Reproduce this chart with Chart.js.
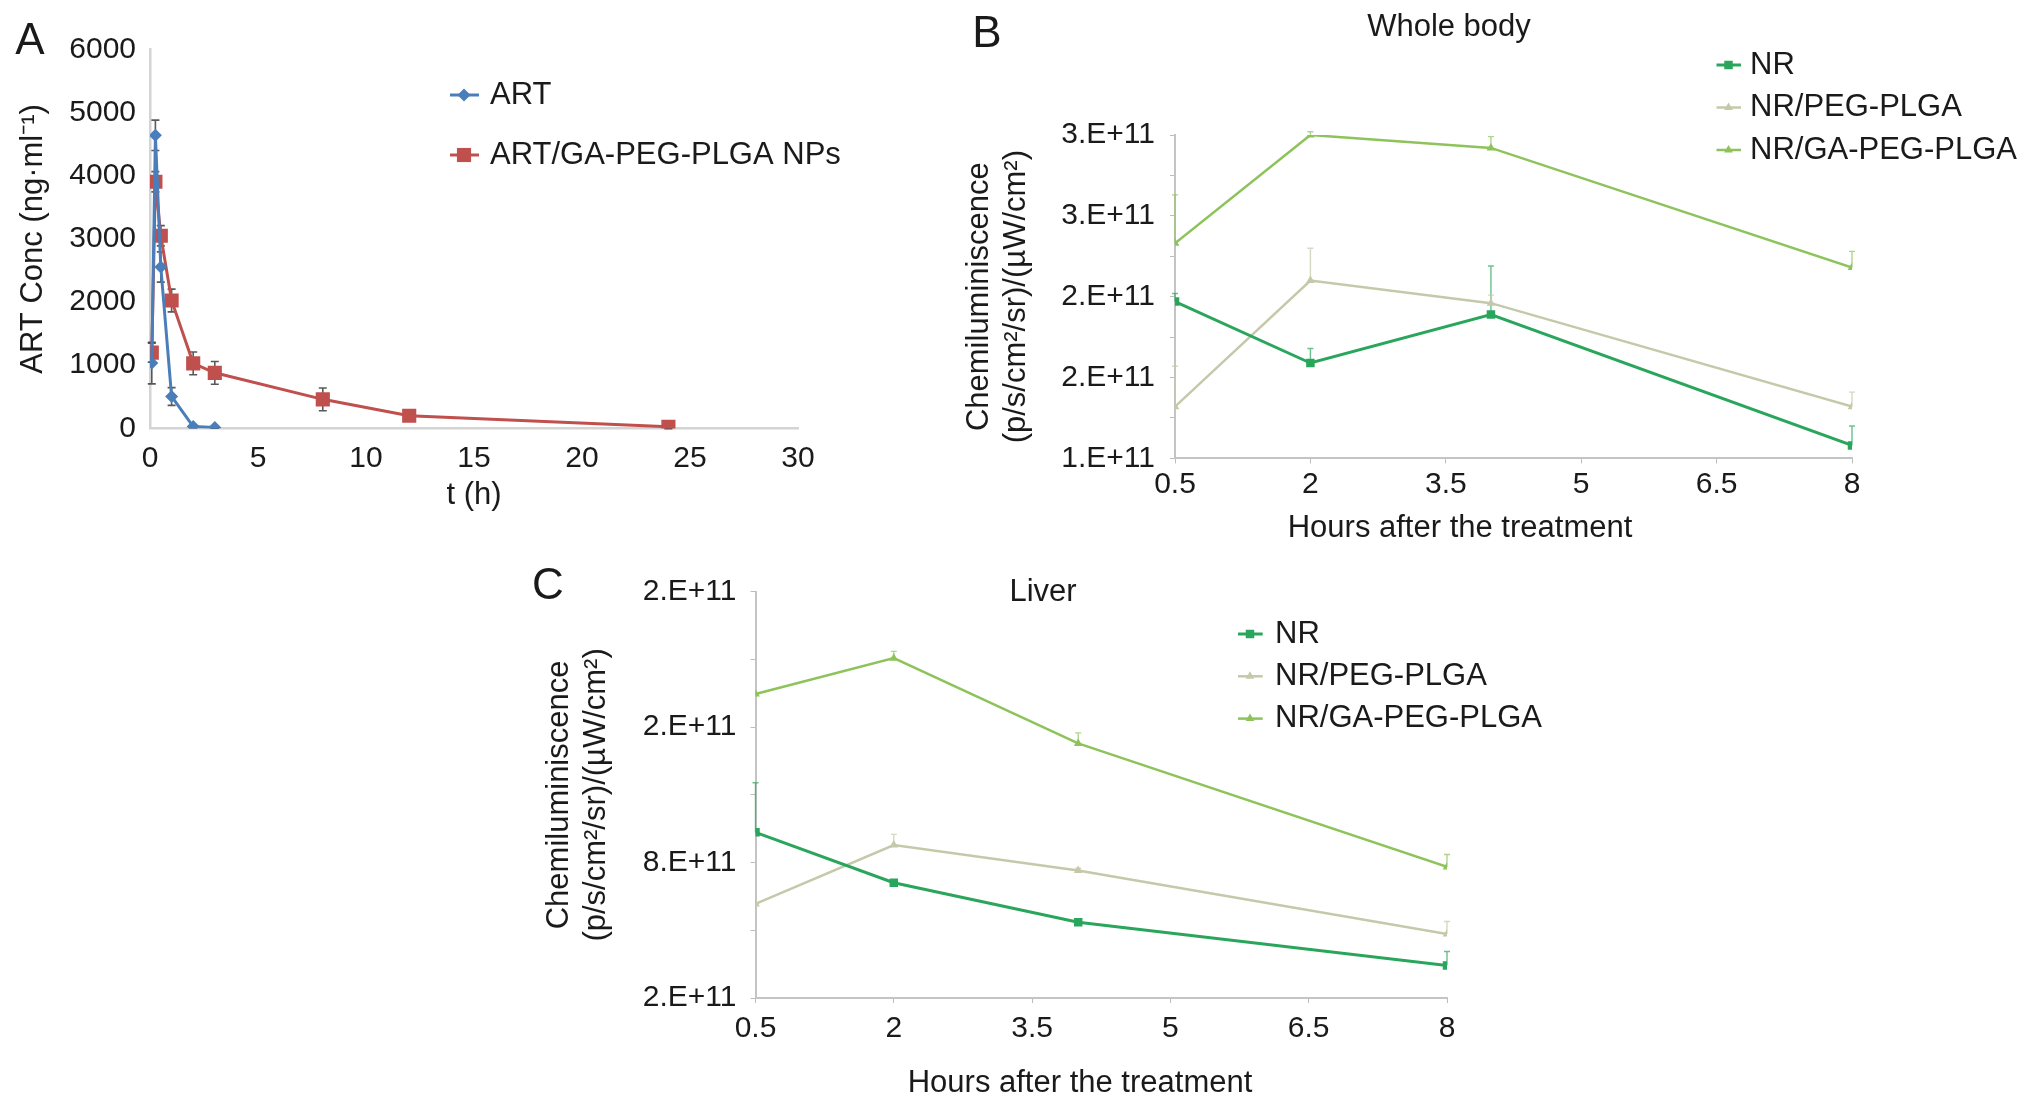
<!DOCTYPE html>
<html lang="en">
<head>
  <meta charset="UTF-8" />
  <title>ART pharmacokinetics and NR chemiluminescence</title>
  <script src="https://cdn.jsdelivr.net/npm/chart.js"></script>
  <style>
    body { margin: 0; background: #fff; }
    #page { position: relative; width: 2032px; height: 1103px; overflow: hidden;
            font-family: 'Liberation Sans', Arial, Helvetica, sans-serif; color: #1a1a1a; }
    .box { position: absolute; }
    .lbl { position: absolute; transform: translate(-50%, -50%); white-space: nowrap; line-height: 1; }
  </style>
</head>
<body>
<div id="page">
  <div class="box" style="left:0px; top:0px; width:870px; height:520px;"><canvas id="chartA"></canvas></div>
  <div class="box" style="left:940px; top:0px; width:1092px; height:560px;"><canvas id="chartB"></canvas></div>
  <div class="box" style="left:520px; top:550px; width:1100px; height:553px;"><canvas id="chartC"></canvas></div>

  <div class="lbl" style="left:30px; top:39px; font-size:44px;">A</div>
  <div class="lbl" style="left:987px; top:32px; font-size:44px;">B</div>
  <div class="lbl" style="left:548px; top:584px; font-size:44px;">C</div>
  <div class="lbl" style="left:1449px; top:25px; font-size:31px;">Whole body</div>
  <div class="lbl" style="left:1460px; top:526px; font-size:31px;">Hours after the treatment</div>
  <div class="lbl" style="left:1043px; top:590px; font-size:31px;">Liver</div>
  <div class="lbl" style="left:1080px; top:1081px; font-size:31px;">Hours after the treatment</div>
</div>

<script>
  // ---- panel A: ART plasma concentration ----
  const artTimes = [0.083, 0.25, 0.5, 1, 2, 3];
  const artConc  = [1035, 4640, 2555, 505, 30, 15];
  const artErr   = [330, 240, 240, 140, 20, 10];
  const npTimes  = [0.083, 0.25, 0.5, 1, 2, 3, 8, 12, 24];
  const npConc   = [1200, 3905, 3050, 2025, 1030, 880, 460, 200, 25];
  const npErr    = [150, 160, 160, 180, 180, 180, 180, 40, 30];

  // ---- panel B: whole body ----
  const hours  = [0.5, 2, 4, 8];
  const bNR    = [1.97e11, 1.59e11, 1.89e11, 1.08e11];
  const bPEG   = [1.32e11, 2.10e11, 1.96e11, 1.32e11];
  const bGA    = [2.33e11, 3.00e11, 2.92e11, 2.18e11];
  const bNRErr  = [0.05e11, 0.09e11, 0.30e11, 0.12e11];
  const bPEGErr = [0.25e11, 0.20e11, 0.05e11, 0.09e11];
  const bGAErr  = [0.30e11, 0.02e11, 0.07e11, 0.10e11];
  const bYLabels = ['1.E+11', '2.E+11', '2.E+11', '3.E+11', '3.E+11'];

  // ---- panel C: liver ----
  const cNR    = [9.34e10, 7.11e10, 5.36e10, 3.44e10];
  const cPEG   = [6.17e10, 8.78e10, 7.65e10, 4.84e10];
  const cGA    = [15.47e10, 17.06e10, 13.28e10, 7.81e10];
  const cNRErr  = [2.2e10, 0.1e10, 0.1e10, 0.62e10];
  const cPEGErr = [0, 0.47e10, 0.1e10, 0.55e10];
  const cGAErr  = [0, 0.3e10, 0.47e10, 0.55e10];
  const cYLabels = ['2.E+11', '8.E+11', '2.E+11', '2.E+11'];

  const groups = ['NR', 'NR/PEG-PLGA', 'NR/GA-PEG-PLGA'];
  const FONT = "'Liberation Sans', Arial, Helvetica, sans-serif";
  const INK = '#1a1a1a';

  Chart.defaults.font.family = FONT;
  Chart.defaults.color = INK;
  Chart.defaults.animation = false;

  function pts(xs, ys) {
    return xs.map((x, i) => ({ x: x, y: ys[i] }));
  }

  // vertical error bars, drawn through the chart scales
  const errorBars = {
    id: 'errorBars',
    beforeDatasetsDraw(chart, args, o) {
      const ctx = chart.ctx;
      const xs = chart.scales.x, ys = chart.scales.y;
      chart.data.datasets.forEach(ds => {
        if (!ds.err) return;
        ctx.save();
        ctx.strokeStyle = o.color || ds.borderColor;
        ctx.globalAlpha = o.alpha || 1;
        ctx.lineWidth = o.width;
        ds.data.forEach((p, j) => {
          const e = ds.err[j];
          if (!e) return;
          const x = xs.getPixelForValue(p.x);
          const top = ys.getPixelForValue(p.y + e);
          const bot = ys.getPixelForValue(o.both ? p.y - e : p.y);
          ctx.beginPath();
          ctx.moveTo(x, top); ctx.lineTo(x, bot);
          ctx.moveTo(x - o.cap, top); ctx.lineTo(x + o.cap, top);
          if (o.both) { ctx.moveTo(x - o.cap, bot); ctx.lineTo(x + o.cap, bot); }
          ctx.stroke();
        });
        ctx.restore();
      });
    }
  };

  function drawMarker(ctx, style, x, y, r, color) {
    ctx.fillStyle = color;
    ctx.beginPath();
    if (style === 'rect') {
      const s = r * Math.SQRT1_2;
      ctx.rect(x - s, y - s, 2 * s, 2 * s);
    } else if (style === 'rectRot') {
      ctx.moveTo(x, y - r); ctx.lineTo(x + r, y); ctx.lineTo(x, y + r); ctx.lineTo(x - r, y);
      ctx.closePath();
    } else {
      const side = r * Math.sqrt(3), h = side * Math.sqrt(3) / 2;
      ctx.moveTo(x - side / 2, y + h / 3); ctx.lineTo(x, y - 2 * h / 3); ctx.lineTo(x + side / 2, y + h / 3);
      ctx.closePath();
    }
    ctx.fill();
  }

  // legend placed where the figure has it
  const legendAt = {
    id: 'legendAt',
    afterDraw(chart, args, o) {
      const ctx = chart.ctx;
      ctx.save();
      ctx.font = o.size + 'px ' + FONT;
      ctx.textBaseline = 'middle';
      chart.data.datasets.forEach((ds, i) => {
        const y = o.y + i * o.gap;
        ctx.strokeStyle = ds.borderColor;
        ctx.lineWidth = ds.borderWidth;
        ctx.beginPath();
        ctx.moveTo(o.x, y); ctx.lineTo(o.x + o.len, y);
        ctx.stroke();
        drawMarker(ctx, ds.pointStyle, o.x + o.mark, y, ds.pointRadius, ds.borderColor);
        ctx.fillStyle = INK;
        ctx.fillText(ds.label, o.textX, y);
      });
      ctx.restore();
    }
  };

  function lineSet(label, data, err, color, style, radius, width) {
    return {
      label: label, data: data, err: err,
      borderColor: color, backgroundColor: color,
      pointStyle: style, pointRadius: radius, pointHoverRadius: radius,
      pointBackgroundColor: color, pointBorderColor: color, pointBorderWidth: 0,
      borderWidth: width, tension: 0
    };
  }

  // ---------- A ----------
  new Chart(document.getElementById('chartA'), {
    type: 'line',
    data: {
      datasets: [
        lineSet('ART', pts(artTimes, artConc), artErr, '#4a7ebb', 'rectRot', 6.5, 3),
        lineSet('ART/GA-PEG-PLGA NPs', pts(npTimes, npConc), npErr, '#c0504d', 'rect', 10, 3)
      ]
    },
    options: {
      responsive: true, maintainAspectRatio: false,
      layout: { padding: { left: 0, top: 49.4, right: 72, bottom: 6 } },
      plugins: {
        legend: { display: false },
        tooltip: { enabled: false },
        errorBars: { width: 1.6, cap: 4, both: true, color: 'rgba(60,60,60,0.85)' },
        legendAt: { x: 450, len: 29, mark: 14, textX: 490, y: 95, gap: 60, size: 31 }
      },
      scales: {
        x: {
          type: 'linear', min: 0, max: 30,
          afterFit: s => { s.height = 85.6; },
          grid: { display: false, drawTicks: false },
          border: { display: true, color: '#d4d4d4', width: 2.5 },
          ticks: { stepSize: 5, padding: 12, font: { size: 30 }, color: INK },
          title: { display: true, text: 't (h)', font: { size: 31 }, padding: { top: 0, bottom: 0 } }
        },
        y: {
          min: 0, max: 6000,
          afterFit: s => { s.width = 150; },
          grid: { display: false, drawTicks: false },
          border: { display: true, color: '#d4d4d4', width: 2.5 },
          ticks: { stepSize: 1000, padding: 14, autoSkip: false, font: { size: 30 }, color: INK,
                   callback: v => String(v) },
          title: { display: true, text: 'ART Conc (ng·ml⁻¹)', font: { size: 31 }, padding: { top: 15, bottom: 0 } }
        }
      }
    },
    plugins: [errorBars, legendAt]
  });

  // ---------- B and C share the same look ----------
  function greenChart(id, nr, peg, ga, errs, yMin, yMax, yStep, yLabels, geo) {
    return new Chart(document.getElementById(id), {
      type: 'line',
      data: {
        datasets: [
          lineSet(groups[0], pts(hours, nr), errs[0], '#2aa65c', 'rect', 6, 3),
          lineSet(groups[1], pts(hours, peg), errs[1], '#c6c8aa', 'triangle', 5, 2.5),
          lineSet(groups[2], pts(hours, ga), errs[2], '#8dc35a', 'triangle', 5, 2.5)
        ]
      },
      options: {
        responsive: true, maintainAspectRatio: false,
        layout: { padding: geo.padding },
        plugins: {
          legend: { display: false },
          tooltip: { enabled: false },
          errorBars: { width: 1.4, cap: 3, both: false, alpha: 0.7 },
          legendAt: geo.legend
        },
        scales: {
          x: {
            type: 'linear', min: 0.5, max: 8,
            afterFit: s => { s.height = 60; },
            grid: { display: true, drawOnChartArea: false, drawTicks: true, tickLength: 5, color: '#bdbdbd' },
            border: { display: true, color: '#c4c4c4', width: 2 },
            ticks: { stepSize: 1.5, padding: geo.xPad, autoSkip: false, font: { size: 30 }, color: INK }
          },
          y: {
            min: yMin, max: yMax,
            afterFit: s => { s.width = geo.yWidth; },
            grid: { display: true, drawOnChartArea: false, drawTicks: true, tickLength: 5, color: '#bdbdbd' },
            border: { display: true, color: '#c4c4c4', width: 2 },
            ticks: { stepSize: yStep, padding: geo.yPad, autoSkip: false, font: { size: 30 }, color: INK,
                     callback: (v, i) => (i % 2 ? '' : yLabels[i / 2]) },
            title: { display: true, text: ['Chemiluminiscence', '(p/s/cm²/sr)/(µW/cm²)'],
                     font: { size: 31 }, padding: { top: geo.titlePad, bottom: 0 } }
          }
        }
      },
      plugins: [errorBars, legendAt]
    });
  }

  greenChart('chartB', bNR, bPEG, bGA, [bNRErr, bPEGErr, bGAErr], 1e11, 3e11, 0.25e11, bYLabels, {
    padding: { left: 0, top: 135, right: 180, bottom: 41.6 },
    yWidth: 235, yPad: 15, xPad: 3.4, titlePad: 20.4,
    legend: { x: 776.5, len: 24.5, mark: 12, textX: 810, y: 65, gap: 42.5, size: 31 }
  });

  greenChart('chartC', cNR, cPEG, cGA, [cNRErr, cPEGErr, cGAErr], 2e10, 2e11, 3e10, cYLabels, {
    padding: { left: 0, top: 41.8, right: 173, bottom: 45 },
    yWidth: 235.5, yPad: 14, xPad: 8, titlePad: 20.9,
    legend: { x: 718, len: 24.7, mark: 12, textX: 755, y: 84, gap: 42.3, size: 31 }
  });
</script>
</body>
</html>
